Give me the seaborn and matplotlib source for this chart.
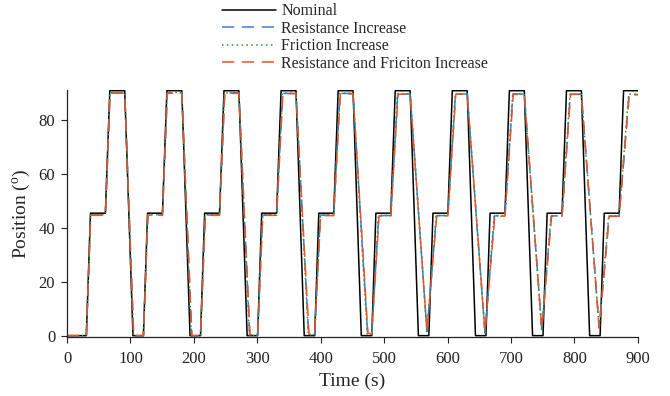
import numpy as np
import pandas as pd
import matplotlib
matplotlib.use("Agg")
import matplotlib.pyplot as plt
import seaborn as sns

# key points of each trace (time in s, position in deg)
nominal_t = [0, 30.5, 37, 60.5, 67.5, 91, 104, 120.5, 127, 150.5, 157.5, 181, 194,
             210.5, 217, 240.5, 247.5, 271, 284, 300.5, 307, 330.5, 337.5, 361, 374,
             390.5, 397, 420.5, 427.5, 451, 464, 480.5, 487, 510.5, 517.5, 541, 554,
             570.5, 577, 600.5, 607.5, 631, 644, 660.5, 667, 690.5, 697.5, 721, 734,
             750.5, 757, 780.5, 787.5, 811, 824, 840.5, 847, 870.5, 877.5, 900]
nominal_y = [0, 0, 45.5, 45.5, 91, 91, 0, 0, 45.5, 45.5, 91, 91, 0,
             0, 45.5, 45.5, 91, 91, 0, 0, 45.5, 45.5, 91, 91, 0,
             0, 45.5, 45.5, 91, 91, 0, 0, 45.5, 45.5, 91, 91, 0,
             0, 45.5, 45.5, 91, 91, 0, 0, 45.5, 45.5, 91, 91, 0,
             0, 45.5, 45.5, 91, 91, 0, 0, 45.5, 45.5, 91, 91]

resist_t = [0, 30.5, 37.3, 60.5, 67.8, 91, 105, 120.5, 127.5, 150.5, 158, 181, 196.5,
            210.5, 218, 240.5, 248.5, 271, 288, 300.5, 308.5, 330.5, 340, 361, 381,
            390.5, 399.5, 420.5, 430.5, 451, 474, 480.5, 491.5, 510.5, 521.5, 541, 567.5,
            582.5, 600.5, 612.5, 631, 659, 674, 690.5, 703, 721, 748.5,
            763.5, 780.5, 793.5, 811, 839, 854.5, 870.5, 886, 900]
resist_y = [0, 0, 44.8, 44.8, 90.2, 90.2, 0, 0, 44.8, 44.8, 90.2, 90.2, 0,
            0, 44.8, 44.8, 90.2, 90.2, 0.2, 0.2, 44.8, 44.8, 90, 90, 0.4,
            0.4, 44.8, 44.8, 90, 90, 0.6, 0.6, 44.6, 44.6, 89.8, 89.8, 1.5,
            44.6, 44.6, 89.8, 89.8, 1.0, 44.5, 44.5, 89.8, 89.8, 2.2,
            44.5, 44.5, 89.7, 89.7, 2.8, 44.4, 44.4, 89.6, 89.6]

friction_t = [0, 30.5, 37.2, 60.5, 67.6, 91, 104.8, 120.5, 127.3, 150.5, 157.8, 181, 196,
              210.5, 217.7, 240.5, 248.2, 271, 287.5, 300.5, 308.2, 330.5, 339.6, 361, 380.5,
              390.5, 399.2, 420.5, 430, 451, 473.5, 480.5, 491, 510.5, 521, 541, 567.5,
              582, 600.5, 612, 631, 659, 673.5, 690.5, 702.5, 721, 748.5,
              763, 780.5, 793, 811, 839, 854, 870.5, 885.5, 900]
friction_y = [0, 0, 44.9, 44.9, 90.3, 90.3, 0, 0, 44.9, 44.9, 90.3, 90.3, 0,
              0, 44.9, 44.9, 90.2, 90.2, 0.1, 0.1, 44.9, 44.9, 90.1, 90.1, 0.3,
              0.3, 44.8, 44.8, 90, 90, 0.5, 0.5, 44.7, 44.7, 89.9, 89.9, 1.3,
              44.6, 44.6, 89.8, 89.8, 0.9, 44.6, 44.6, 89.8, 89.8, 2.0,
              44.5, 44.5, 89.7, 89.7, 2.6, 44.5, 44.5, 89.7, 89.7]

both_t = [0, 30.5, 37.4, 60.5, 68, 91, 105.2, 120.5, 127.7, 150.5, 158.3, 181, 197,
          210.5, 218.3, 240.5, 248.8, 271, 288.5, 300.5, 308.8, 330.5, 340.4, 361, 381.5,
          390.5, 399.8, 420.5, 431, 451, 474.5, 480.5, 492, 510.5, 522, 541, 567.5,
          583, 600.5, 613, 631, 659, 674.5, 690.5, 703.5, 721, 748.5,
          764, 780.5, 794, 811, 839, 855, 870.5, 886.5, 900]
both_y = [0, 0, 44.7, 44.7, 90.1, 90.1, 0, 0, 44.7, 44.7, 90.1, 90.1, 0,
          0, 44.7, 44.7, 90, 90, 0.3, 0.3, 44.7, 44.7, 89.9, 89.9, 0.5,
          0.5, 44.6, 44.6, 89.8, 89.8, 0.8, 0.8, 44.5, 44.5, 89.7, 89.7, 1.7,
          44.5, 44.5, 89.7, 89.7, 1.2, 44.4, 44.4, 89.6, 89.6, 2.4,
          44.4, 44.4, 89.6, 89.6, 3.0, 44.3, 44.3, 89.5, 89.5]

labels = ["Nominal", "Resistance Increase", "Friction Increase",
          "Resistance and Friciton Increase"]

frames = []
for lab, t, y in zip(labels, [nominal_t, resist_t, friction_t, both_t],
                     [nominal_y, resist_y, friction_y, both_y]):
    frames.append(pd.DataFrame({"Time": t, "Position": y, "series": lab}))
df = pd.concat(frames, ignore_index=True)

sns.set_style("ticks")
plt.rcParams["font.family"] = ["Liberation Serif", "DejaVu Serif"]
plt.rcParams["mathtext.fontset"] = "custom"
plt.rcParams["mathtext.rm"] = "Liberation Serif"

palette = {"Nominal": "black", "Resistance Increase": "#3b7ddd",
           "Friction Increase": "#1f9a2a",
           "Resistance and Friciton Increase": "#e0552a"}
dashes = {"Nominal": "", "Resistance Increase": (8, 5),
          "Friction Increase": (1, 2.2),
          "Resistance and Friciton Increase": (8, 5)}

fig = plt.figure(figsize=(6.7, 3.96), dpi=100)
ax = fig.add_axes([0.1, 0.149, 0.852, 0.624])
sns.lineplot(data=df, x="Time", y="Position", hue="series", style="series",
             hue_order=labels, style_order=labels, palette=palette, dashes=dashes,
             estimator=None, sort=False, linewidth=1.1, ax=ax)

ax.set_xlim(0, 900)
ax.set_ylim(-0.5, 91.3)
ax.set_xticks(np.arange(0, 901, 100))
ax.set_yticks([0, 20, 40, 60, 80])
ax.tick_params(direction="out", length=4.5, width=0.8, labelsize=12,
               colors="#222222", pad=4)
ax.tick_params(axis="x", pad=5.5)
ax.set_xlabel("Time (s)", fontsize=14, labelpad=4)
ax.set_ylabel("Position ($^{\\mathrm{o}}$)", fontsize=14, labelpad=4)
for s in ["left", "bottom"]:
    ax.spines[s].set_linewidth(0.9)
    ax.spines[s].set_color("#222222")
sns.despine(ax=ax)

sns.move_legend(ax, "upper left", bbox_to_anchor=(0.329, 0.996),
                bbox_transform=fig.transFigure, frameon=False, title=None,
                fontsize=11.5, handlelength=3.4, handletextpad=0.3,
                labelspacing=0.1, borderaxespad=0, borderpad=0.1)

fig.savefig("out.png", dpi=100)
